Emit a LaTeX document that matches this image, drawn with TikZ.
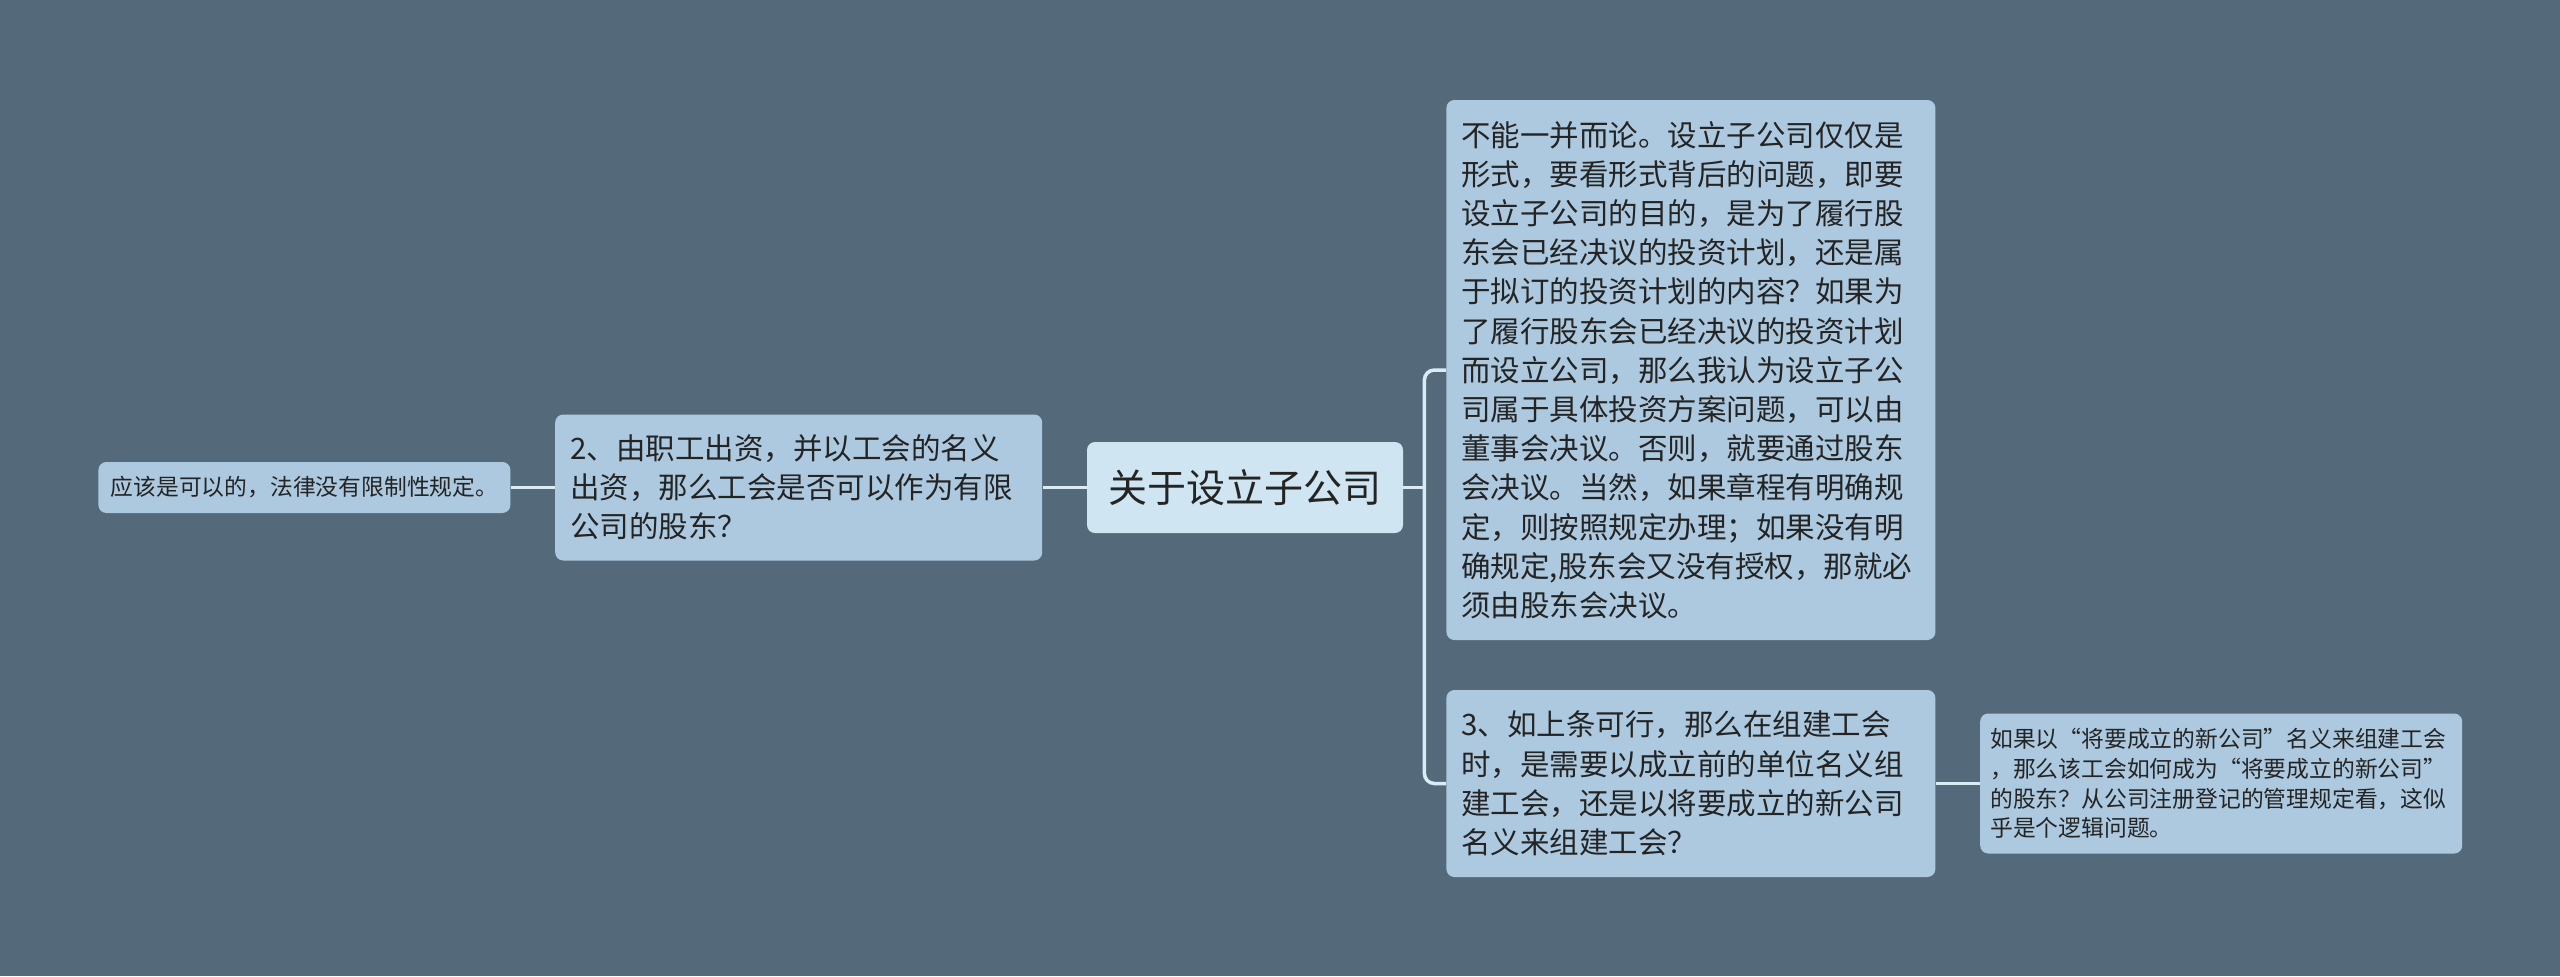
\documentclass[tikz,border=0pt]{standalone}
\usepackage{fontspec}
\setmainfont{Noto Sans CJK SC}
\usepackage{tikz}
\usetikzlibrary{positioning}
\usepackage{xcolor}
\definecolor{bgslate}{HTML}{546A7A}
\definecolor{boxblue}{HTML}{ADC9DF}
\definecolor{rootblue}{HTML}{CFE5F1}
\definecolor{linkblue}{HTML}{D9ECF5}
\definecolor{inkgrey}{HTML}{242424}
\tikzset{
  topic/.style={fill=rootblue, rounded corners=4pt, align=center, text=inkgrey, inner sep=0pt, minimum width=158pt, minimum height=45.5pt, font=\fontsize{19.5}{24}\selectfont},
  subtopic/.style={fill=boxblue, rounded corners=4pt, align=left, text=inkgrey, inner xsep=7.5pt, inner ysep=0pt, font=\fontsize{14.75}{19.6}\selectfont},
  leaf/.style={fill=boxblue, rounded corners=4pt, align=left, text=inkgrey, inner xsep=5pt, inner ysep=0pt, font=\fontsize{11.4}{14.8}\selectfont},
  link/.style={draw=linkblue, line width=1.75pt}
}

\begin{document}
\begin{tikzpicture}[x=0.5pt, y=-0.5pt, node distance=22pt]
\useasboundingbox (0,0) rectangle (2560,976);
\fill[bgslate] (0,0) rectangle (2560,976);
% centre topic and left branch
\node[topic] (root) at (1245,487.5) {关于设立子公司};
\node[subtopic, text width=228.5pt, minimum height=73pt, left=of root] (q2) {2、由职工出资，并以工会的名义\\出资，那么工会是否可以作为有限\\公司的股东？};
\node[leaf, align=center, text width=196pt, minimum height=25.5pt, left=of q2] (ans2) {应该是可以的，法律没有限制性规定。};
% right branch
\node[subtopic, text width=229.5pt, minimum height=270pt, anchor=west] (q1) at (1446,370) {不能一并而论。设立子公司仅仅是\\形式，要看形式背后的问题，即要\\设立子公司的目的，是为了履行股\\东会已经决议的投资计划，还是属\\于拟订的投资计划的内容？如果为\\了履行股东会已经决议的投资计划\\而设立公司，那么我认为设立子公\\司属于具体投资方案问题，可以由\\董事会决议。否则，就要通过股东\\会决议。当然，如果章程有明确规\\定，则按照规定办理；如果没有明\\确规定,股东会又没有授权，那就必\\须由股东会决议。};
\node[subtopic, text width=229.5pt, minimum height=93.5pt, anchor=west] (q3) at (1446,783.5) {3、如上条可行，那么在组建工会\\时，是需要以成立前的单位名义组\\建工会，还是以将要成立的新公司\\名义来组建工会？};
\node[leaf, text width=231pt, minimum height=70pt, right=of q3] (ans3) {如果以“将要成立的新公司”名义来组建工会\\，那么该工会如何成为“将要成立的新公司”\\的股东？从公司注册登记的管理规定看，这似\\乎是个逻辑问题。};
\coordinate[right=10.5pt of root.east] (fork);
% connectors
\draw[link] (root.west) -- (q2.east);
\draw[link] (q2.west) -- (ans2.east);
\draw[link] (root.east) -- (fork);
\draw[link, rounded corners=5pt] (q1.west) -| (fork) |- (q3.west);
\draw[link] (q3.east) -- (ans3.west);
\end{tikzpicture}
\end{document}
